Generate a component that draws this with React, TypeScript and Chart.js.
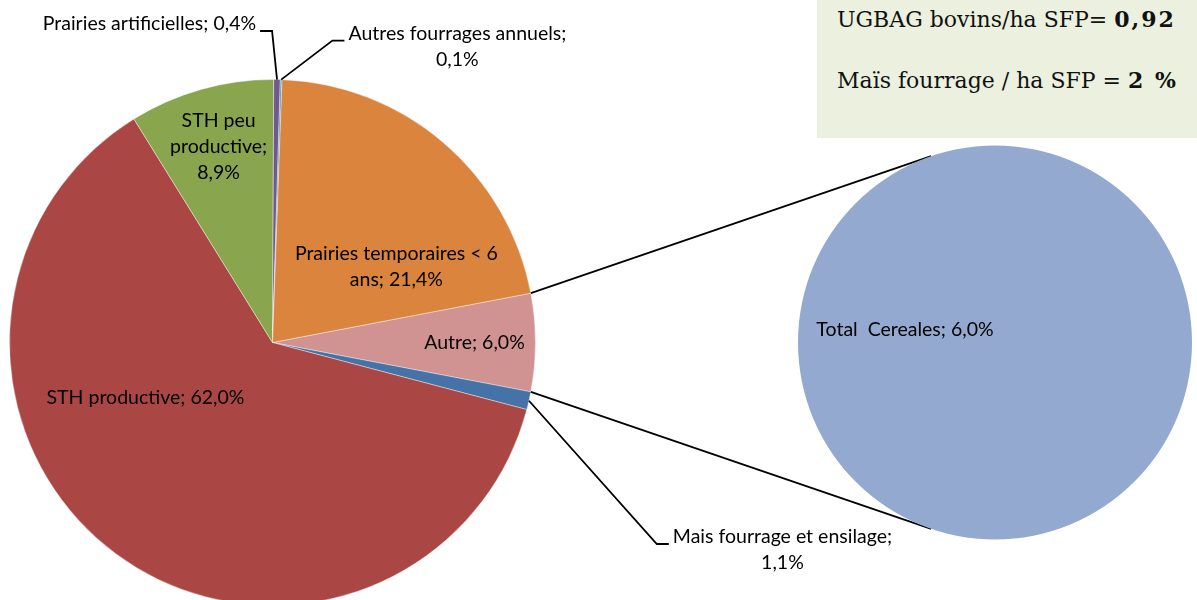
import React, { useEffect, useRef } from "react";
import { Chart, registerables } from "chart.js";

Chart.register(...registerables);

// ---- Data ----
const mainLabels = [
  "Autre",
  "Mais fourrage et ensilage",
  "STH productive",
  "STH peu productive",
  "Prairies artificielles",
  "Autres fourrages annuels",
  "Prairies temporaires < 6 ans",
];
const mainValues = [6.0, 1.1, 62.0, 8.9, 0.4, 0.1, 21.4];
const mainColors = ["#D19292", "#4572A7", "#AA4643", "#89A54E", "#71588F", "#4198AF", "#DB843D"];

const secondLabels = ["Total  Cereales"];
const secondValues = [6.0];
const secondColors = ["#93A9CF"];

const infoTexts = ["UGBAG bovins/ha SFP= ", "Maïs fourrage / ha SFP = "];
const infoValues = ["0,92", "2 %"];

// ---- Label layout (relative to pie centre, in radius units) ----
type Lay = { fx: number; fy: number; wrap?: number; leader?: "left" | "right" };
const mainLayout: Lay[] = [
  { fx: 0.768, fy: 0.002 },
  { fx: 1.939, fy: 0.789, wrap: 240, leader: "left" },
  { fx: -0.483, fy: 0.211 },
  { fx: -0.205, fy: -0.743, wrap: 110 },
  { fx: -0.468, fy: -1.211, leader: "right" },
  { fx: 0.703, fy: -1.125, wrap: 235, leader: "left" },
  { fx: 0.471, fy: -0.287, wrap: 215 },
];
const secondLayout: Lay[] = [{ fx: -0.457, fy: -0.063 }];

const FONT = '19.5px Lato, "Open Sans", sans-serif';
const LINE_H = 26;
const LINE_W = 1.8;

const fmt = (v: number) => v.toFixed(1).replace(".", ",") + "%";

function wrapText(ctx: CanvasRenderingContext2D, text: string, maxW?: number): string[] {
  if (!maxW) return [text];
  const words = text.split(" ");
  const lines: string[] = [];
  let cur = "";
  for (const w of words) {
    const test = cur ? cur + " " + w : w;
    if (cur && ctx.measureText(test).width > maxW) {
      lines.push(cur);
      cur = w;
    } else cur = test;
  }
  if (cur) lines.push(cur);
  return lines;
}

function drawBlock(ctx: CanvasRenderingContext2D, lines: string[], cx: number, cy: number) {
  ctx.save();
  ctx.font = FONT;
  ctx.fillStyle = "#000";
  ctx.textAlign = "center";
  ctx.textBaseline = "middle";
  const top = cy - ((lines.length - 1) * LINE_H) / 2;
  lines.forEach((l, i) => ctx.fillText(l, cx, top + i * LINE_H));
  ctx.restore();
}

export default function App() {
  const mainRef = useRef<HTMLCanvasElement>(null);
  const secRef = useRef<HTMLCanvasElement>(null);

  useEffect(() => {
    let mainChart: Chart | null = null;
    let secChart: Chart | null = null;
    let cancelled = false;

    const total = mainValues.reduce((a, b) => a + b, 0);

    const mainLabelPlugin = {
      id: "mainLabelPlugin",
      afterDatasetsDraw(chart: any) {
        const ctx: CanvasRenderingContext2D = chart.ctx;
        const meta = chart.getDatasetMeta(0);
        ctx.save();
        ctx.font = FONT;
        meta.data.forEach((arc: any, i: number) => {
          const p = arc.getProps(["x", "y", "outerRadius", "startAngle", "endAngle"], true);
          const lay = mainLayout[i];
          const text = `${mainLabels[i]}; ${fmt(mainValues[i])}`;
          const lines = wrapText(ctx, text, lay.wrap);
          const cx = p.x + lay.fx * p.outerRadius;
          const cy = p.y + lay.fy * p.outerRadius;
          if (lay.leader) {
            const wMax = Math.max(...lines.map((l) => ctx.measureText(l).width));
            const topY = cy - ((lines.length - 1) * LINE_H) / 2;
            const ay = topY + 7;
            const mid = (p.startAngle + p.endAngle) / 2;
            const ex = p.x + Math.cos(mid) * p.outerRadius;
            const ey = p.y + Math.sin(mid) * p.outerRadius;
            let ax: number, bx: number;
            if (lay.leader === "left") {
              ax = cx - wMax / 2 - 4;
              bx = ax - 12;
            } else {
              ax = cx + wMax / 2 + 4;
              bx = ax + 12;
            }
            ctx.beginPath();
            ctx.strokeStyle = "#000";
            ctx.lineWidth = LINE_W;
            ctx.moveTo(ax, ay);
            ctx.lineTo(bx, ay);
            ctx.lineTo(ex, ey);
            ctx.stroke();
          }
          drawBlock(ctx, lines, cx, cy);
        });
        ctx.restore();
      },
    };

    const secPlugin = {
      id: "secPlugin",
      beforeDatasetsDraw(chart: any) {
        if (!mainChart) return;
        const ctx: CanvasRenderingContext2D = chart.ctx;
        const sArc: any = chart.getDatasetMeta(0).data[0];
        const s = sArc.getProps(["x", "y", "outerRadius"], true);
        const mArc: any = mainChart.getDatasetMeta(0).data[0];
        const m = mArc.getProps(["x", "y", "outerRadius", "startAngle", "endAngle"], true);
        const pts = [m.startAngle, m.endAngle].map((a: number) => ({
          x: m.x + Math.cos(a) * m.outerRadius,
          y: m.y + Math.sin(a) * m.outerRadius,
        }));
        ctx.save();
        ctx.strokeStyle = "#000";
        ctx.lineWidth = LINE_W;
        pts.forEach((P, k) => {
          const dx = P.x - s.x;
          const dy = P.y - s.y;
          const d = Math.hypot(dx, dy);
          const phi = Math.atan2(dy, dx);
          const th = Math.acos(s.outerRadius / d);
          const c1 = { x: s.x + s.outerRadius * Math.cos(phi + th), y: s.y + s.outerRadius * Math.sin(phi + th) };
          const c2 = { x: s.x + s.outerRadius * Math.cos(phi - th), y: s.y + s.outerRadius * Math.sin(phi - th) };
          const T = k === 0 ? (c1.y < c2.y ? c1 : c2) : c1.y > c2.y ? c1 : c2;
          ctx.beginPath();
          ctx.moveTo(P.x, P.y);
          ctx.lineTo(T.x, T.y);
          ctx.stroke();
        });
        ctx.restore();
      },
      afterDatasetsDraw(chart: any) {
        const ctx: CanvasRenderingContext2D = chart.ctx;
        const meta = chart.getDatasetMeta(0);
        ctx.save();
        ctx.font = FONT;
        meta.data.forEach((arc: any, i: number) => {
          const p = arc.getProps(["x", "y", "outerRadius"], true);
          const lay = secondLayout[i];
          const text = `${secondLabels[i]}; ${fmt(secondValues[i])}`;
          drawBlock(ctx, [text], p.x + lay.fx * p.outerRadius, p.y + lay.fy * p.outerRadius);
        });
        ctx.restore();
      },
    };

    const build = () => {
      if (cancelled || !mainRef.current || !secRef.current) return;
      mainChart = new Chart(mainRef.current, {
        type: "pie",
        data: {
          labels: mainLabels,
          datasets: [
            {
              data: mainValues,
              backgroundColor: mainColors,
              borderColor: "rgba(255,255,255,0.4)",
              borderWidth: 1,
              clip: false,
            } as any,
          ],
        },
        options: {
          animation: false,
          responsive: false,
          maintainAspectRatio: false,
          rotation: 90 - ((mainValues[0] / total) * 360) / 2,
          radius: 263,
          layout: { padding: { left: 0, right: 652, top: 85, bottom: 0 } },
          plugins: { legend: { display: false }, tooltip: { enabled: false } },
        } as any,
        plugins: [mainLabelPlugin],
      });
      secChart = new Chart(secRef.current, {
        type: "pie",
        data: {
          labels: secondLabels,
          datasets: [
            {
              data: secondValues,
              backgroundColor: secondColors,
              borderWidth: 0,
              clip: false,
            } as any,
          ],
        },
        options: {
          animation: false,
          responsive: false,
          maintainAspectRatio: false,
          radius: 197,
          layout: { padding: { left: 798, right: 5, top: 145.5, bottom: 60.5 } },
          plugins: { legend: { display: false }, tooltip: { enabled: false } },
        } as any,
        plugins: [secPlugin],
      });
    };

    const fontsReady = (document as any).fonts
      ? Promise.all([
          (document as any).fonts.load(FONT, "STH"),
          (document as any).fonts.load('22px "DejaVu Serif"', "UGBAG"),
        ]).catch(() => null)
      : Promise.resolve(null);
    fontsReady.then(build);

    return () => {
      cancelled = true;
      if (mainChart) mainChart.destroy();
      if (secChart) secChart.destroy();
    };
  }, []);

  return (
    <div style={{ position: "absolute", left: 0, top: 0, width: 1197, height: 600, background: "#fff", overflow: "hidden" }}>
      <div style={{ position: "absolute", left: 817, top: 0, width: 380, height: 138, background: "#EBF1DE" }}>
        {infoTexts.map((t, i) => (
          <div
            key={i}
            style={{
              position: "absolute",
              left: 20,
              top: i === 0 ? 7 : 68,
              whiteSpace: "nowrap",
              font: '22px "DejaVu Serif", "Liberation Serif", serif',
              lineHeight: "24px",
              color: "#111",
            }}
          >
            {t}
            <b style={{ letterSpacing: 2 }}>{infoValues[i]}</b>
          </div>
        ))}
      </div>
      <canvas ref={mainRef} width={1197} height={600} style={{ position: "absolute", left: 0, top: 0 }} />
      <canvas ref={secRef} width={1197} height={600} style={{ position: "absolute", left: 0, top: 0 }} />
    </div>
  );
}
